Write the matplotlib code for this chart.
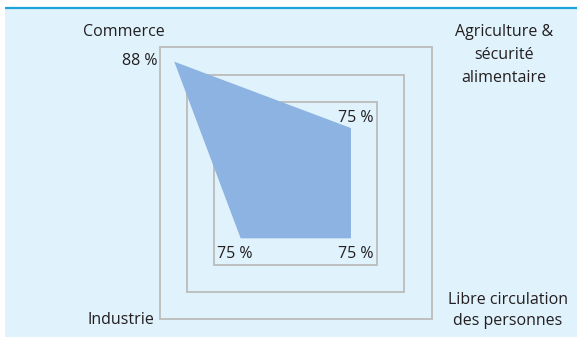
import matplotlib
matplotlib.use("Agg")
import matplotlib.pyplot as plt
from matplotlib.patches import Polygon, Rectangle

# ---- data ----
categories = ["Commerce", "Agriculture &\nsécurité\nalimentaire",
              "Libre circulation\ndes personnes", "Industrie"]
values = [88, 75, 75, 75]
value_labels = ["88 %", "75 %", "75 %", "75 %"]
r_min, r_max = 64.2, 90.8          # radial scale of the radar
grid_levels = [0.6, 0.8, 1.0]      # fraction of radius for square gridlines

# ---- layout (pixels) ----
W, H = 577, 337
cx, cy, R = 295.8, 183.2, 135.8
dirs = [(-1, -1), (1, -1), (1, 1), (-1, 1)]   # TL, TR, BR, BL (y down)

plt.rcParams['font.family'] = ['Open Sans', 'DejaVu Sans']
txt_color = "#231f20"

fig = plt.figure(figsize=(W / 100, H / 100), dpi=100)
ax = fig.add_axes([0, 0, 1, 1])
ax.set_xlim(0, W)
ax.set_ylim(H, 0)
ax.axis("off")
fig.patch.set_facecolor("white")

# background panel and top rule
ax.add_patch(Rectangle((5, 8.5), W - 5, H - 8.5, facecolor="#e0f2fc", edgecolor="none", zorder=0))
ax.plot([5, W], [8, 8], color="#1ea4dd", lw=1.6, zorder=1, solid_capstyle="butt")

# square grid
for g in grid_levels:
    pts = [(cx + dx * R * g, cy + dy * R * g) for dx, dy in dirs]
    ax.add_patch(Polygon(pts, closed=True, facecolor="none", edgecolor="#bfbfbf", lw=1.4, zorder=2))

# data polygon
def to_xy(v, d):
    f = (v - r_min) / (r_max - r_min)
    return (cx + d[0] * R * f, cy + d[1] * R * f)

verts = [to_xy(v, d) for v, d in zip(values, dirs)]
ax.add_patch(Polygon(verts, closed=True, facecolor="#8db3e2", edgecolor="none", zorder=3))

fs = 11.5
# value labels (offsets in pixels from the vertex)
val_offsets = [(-17, 3, "right"), (23, -6, "right"), (23, 20, "right"), (-24, 20, "left")]
for (x, y), lab, (ox, oy, ha) in zip(verts, value_labels, val_offsets):
    ax.text(x + ox, y + oy, lab, ha=ha, va="baseline", fontsize=fs, color=txt_color, zorder=4)

# category labels (relative to outer square corners; baseline = last line)
corners = [(cx + dx * R, cy + dy * R) for dx, dy in dirs]
cat_specs = [(-36.5, -11.3, "center", 1.0),
             (72, 34.2, "center", 1.55),
             (76, 6, "center", 1.42),
             (-6, 5, "right", 1.0)]
for (x, y), lab, (ox, oy, ha, ls) in zip(corners, categories, cat_specs):
    ax.text(x + ox, y + oy, lab, ha=ha, va="baseline", fontsize=fs, color=txt_color,
            linespacing=ls, multialignment="center", zorder=4)

fig.savefig("out.png", dpi=100, facecolor="white")
